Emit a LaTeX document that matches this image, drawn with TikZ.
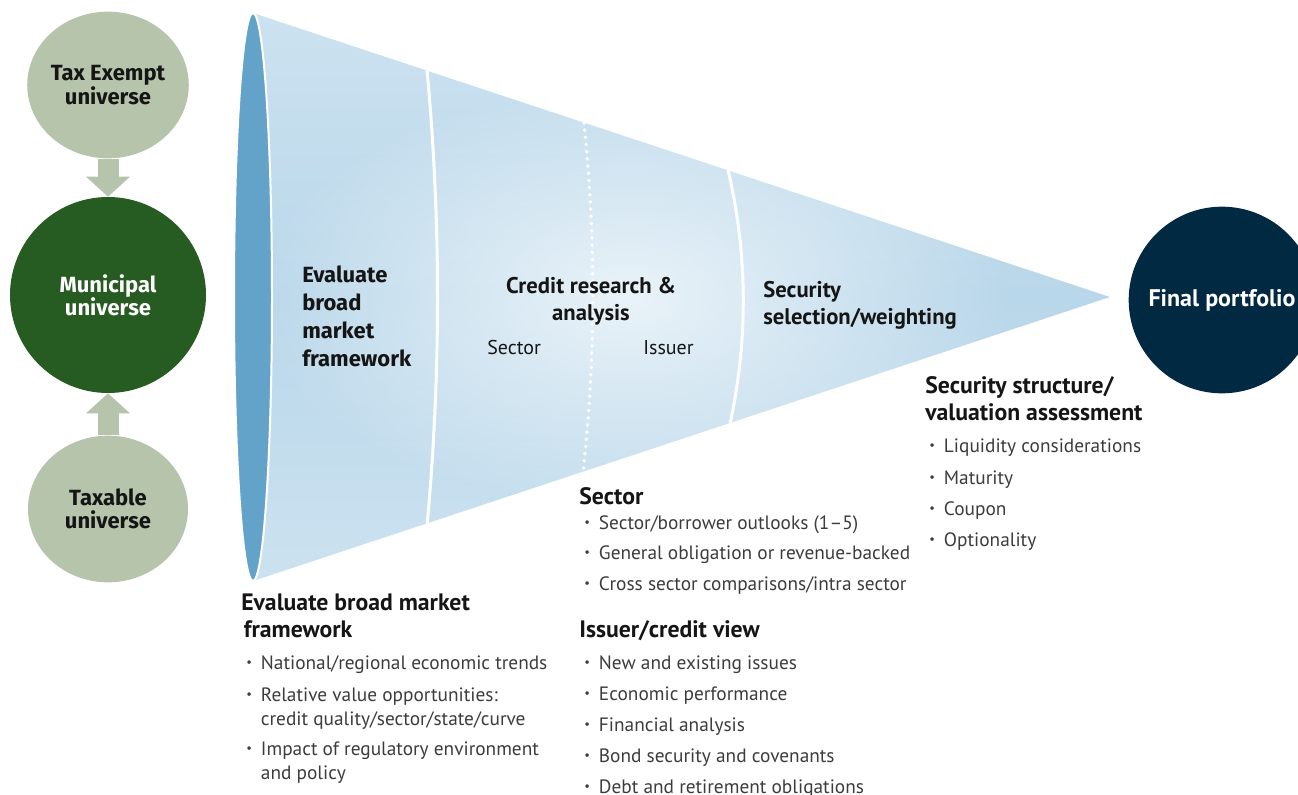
\documentclass[tikz,border=0pt]{standalone}
\usepackage{fontspec}
\setmainfont{PT Sans}
\newfontfamily\roundsans{Fira Sans}
\usetikzlibrary{shapes.geometric,arrows.meta,fadings}
\definecolor{sage}{HTML}{B5C4AA}
\definecolor{muni}{HTML}{265B21}
\definecolor{navy}{HTML}{022942}
\definecolor{funbase}{HTML}{B9D7EA}
\definecolor{funedge}{HTML}{CCE2F0}
\definecolor{rim}{HTML}{63A3C9}
\definecolor{ink}{HTML}{151515}
\definecolor{greytext}{HTML}{3C3C3C}
\tikzfading[name=glow, inner color=transparent!0, outer color=transparent!100]
\newcommand{\bul}{\makebox[11pt][l]{\raisebox{0.12em}{\scalebox{0.65}{\textbullet}}}}
\tikzstyle{universe}=[ellipse, fill=sage, minimum width=120pt, minimum height=110pt, inner sep=0pt, align=center, text=ink, font=\roundsans\bfseries\fontsize{16.5}{17.5}\selectfont]
\tikzstyle{core}=[circle, fill=muni, minimum width=147pt, inner sep=0pt, align=center, text=white, font=\roundsans\bfseries\fontsize{16.5}{17.5}\selectfont]
\tikzstyle{result}=[circle, fill=navy, minimum width=140pt, inner sep=0pt, text=white, font=\bfseries\fontsize{18}{21}\selectfont]
\tikzstyle{stage}=[anchor=base west, align=left, inner sep=0pt, text=ink, font=\bfseries\fontsize{17}{20}\selectfont]
\tikzstyle{sub}=[anchor=base west, inner sep=0pt, text=ink, font=\fontsize{15}{18}\selectfont]
\tikzstyle{head}=[anchor=base west, align=left, inner sep=0pt, text=ink, font=\bfseries\fontsize{17.8}{20}\selectfont]
\tikzstyle{item}=[anchor=base west, align=left, inner sep=0pt, text=greytext, font=\fontsize{14.5}{18}\selectfont]
\tikzstyle{feed}=[draw=sage, line width=15.75pt, -{Triangle[width=32pt, length=15pt]}]
\tikzstyle{divider}=[white, line width=2.25pt]

\begin{document}
\begin{tikzpicture}[x=0.75pt, y=-0.75pt]
    \useasboundingbox (0,0) rectangle (1298,795);
    % universes
    \node[universe] (taxex) at (108,85) {Tax Exempt\\universe};
    \node[core] (muni) at (108,295) {Municipal\\universe};
    \node[universe] (taxable) at (108,509) {Taxable\\universe};
    \draw[feed] (taxex) -- (muni);
    \draw[feed] (taxable) -- (muni);
    % funnel
    \begin{scope}
        \clip (253,13) -- (1110,297) -- (253,581) -- cycle;
        \shade[top color=funedge, bottom color=funedge, middle color=funbase] (240,10) rectangle (1120,585);
        \fill[white, opacity=0.7, path fading=glow] (630,297) ellipse (380 and 210);
        \draw[divider] (427,70) .. controls (441,220) and (441,375) .. (427,526);
        \draw[divider] (728,170) .. controls (748,255) and (748,340) .. (730,424);
        \draw[white, line width=2.9pt, line cap=round, dash pattern=on 0pt off 5.4pt]
            (584,123) .. controls (596,240) and (596,355) .. (583,473);
    \end{scope}
    \draw[white, line width=1.5pt, fill=rim] (253,297) ellipse (19 and 284);
    % stages (anchored on the last line)
    \node[stage, font=\roundsans\bfseries\fontsize{16.5}{21}\selectfont] (evalst) at (302,366) {Evaluate\\broad\\market\\framework};
    \node[stage, anchor=base, align=center] (credst) at (591,320) {Credit research \&\\analysis};
    \node[sub] (sectst) at (487,354) {Sector};
    \node[sub] (issst) at (643,354) {Issuer};
    \node[stage] (selst) at (763,324) {Security\\selection/weighting};
    \node[result] (final) at (1222,300) {Final portfolio};
    % bottom notes
    \node[head] (evalhd) at (241,637) {Evaluate broad market\\\hspace*{2pt}framework};
    \node[item] at (246,669) {\bul National/regional economic trends};
    \node[item] at (246,725) {\bul Relative value opportunities:\\\hspace*{11pt}credit quality/sector/state/curve};
    \node[item] at (246,779) {\bul Impact of regulatory environment\\\hspace*{11pt}and policy};
    \node[head] (secthd) at (579,504) {Sector};
    \node[item] at (584,529) {\bul Sector/borrower outlooks (1–5)};
    \node[item] at (584,559) {\bul General obligation or revenue-backed};
    \node[item] at (584,590) {\bul Cross sector comparisons/intra sector};
    \node[head] (isshd) at (579,637) {Issuer/credit view};
    \node[item] at (584,669) {\bul New and existing issues};
    \node[item] at (584,700) {\bul Economic performance};
    \node[item] at (584,731) {\bul Financial analysis};
    \node[item] at (584,762) {\bul Bond security and covenants};
    \node[item] at (584,793) {\bul Debt and retirement obligations};
    \node[head] (structhd) at (925,420) {Security structure/\\valuation assessment};
    \node[item] at (929,452) {\bul Liquidity considerations};
    \node[item] at (929,484) {\bul Maturity};
    \node[item] at (929,515) {\bul Coupon};
    \node[item] at (929,546) {\bul Optionality};
\end{tikzpicture}
\end{document}
